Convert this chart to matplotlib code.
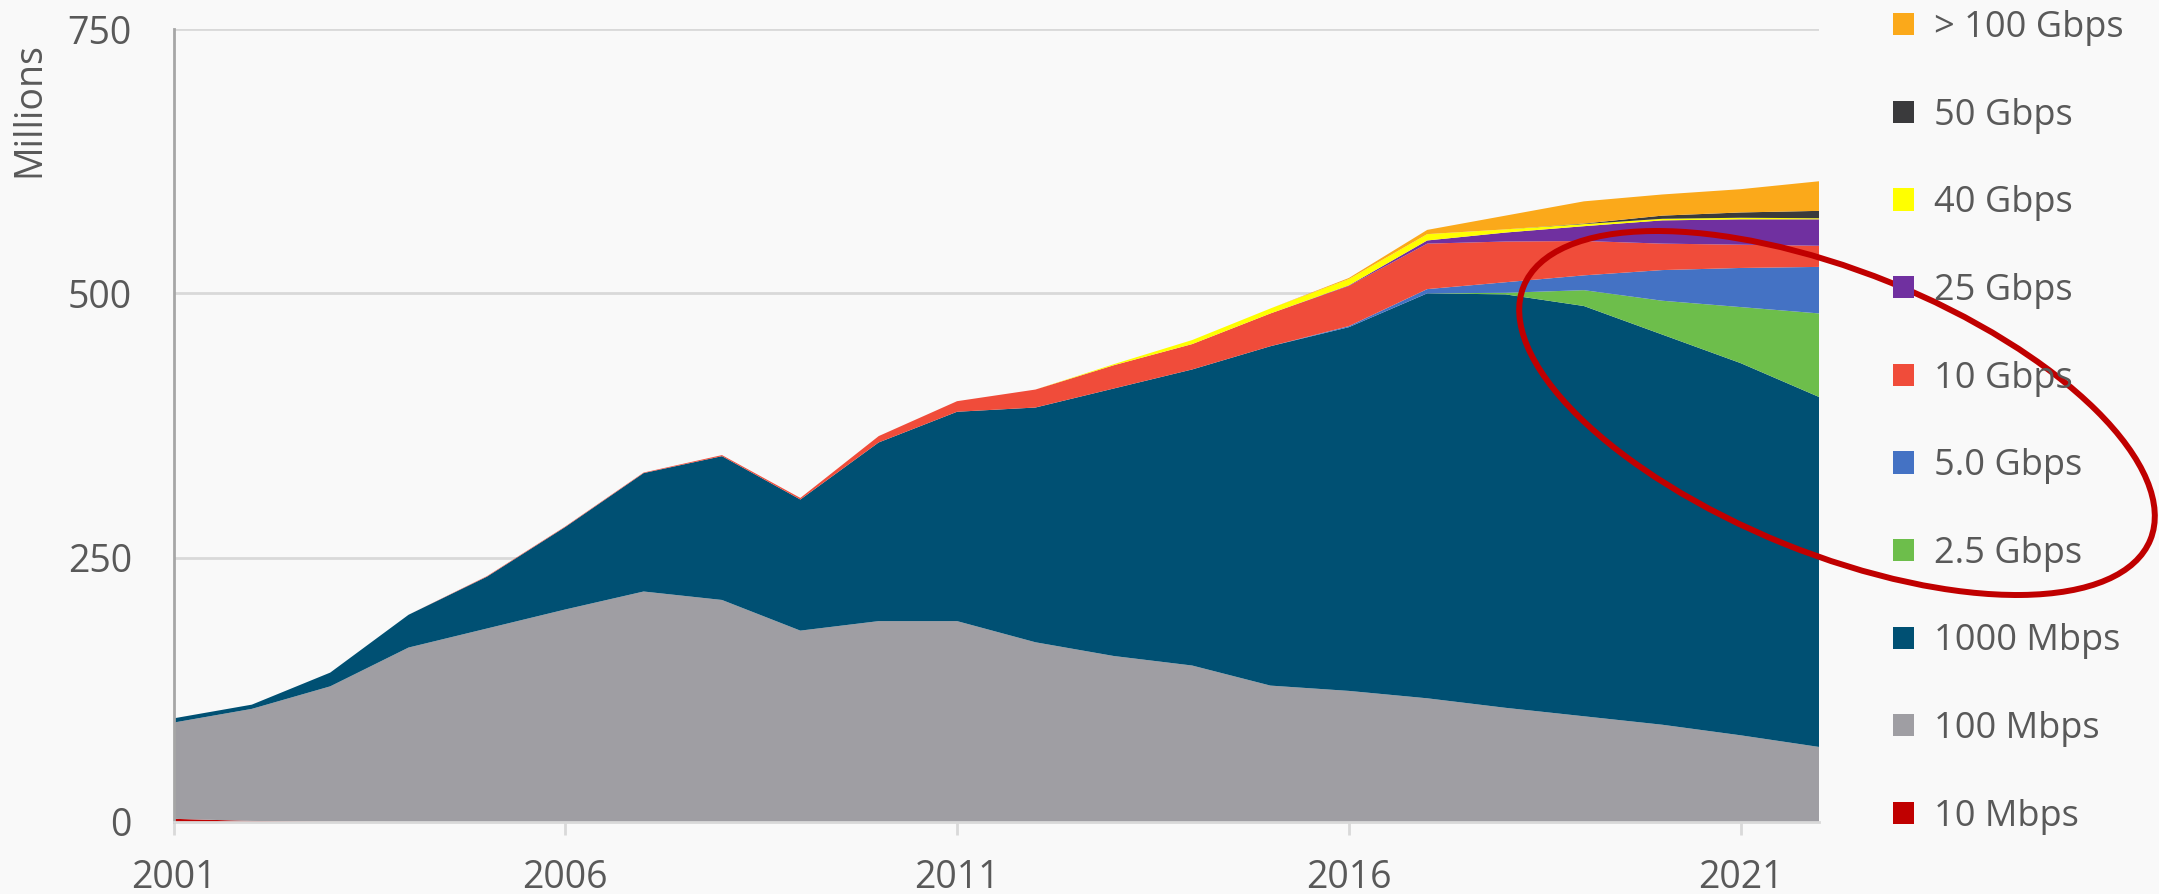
import matplotlib
matplotlib.use("Agg")
import matplotlib.pyplot as plt
from matplotlib.patches import Ellipse
import numpy as np

plt.rcParams['font.family'] = ['Open Sans', 'DejaVu Sans']

years = list(range(2001, 2023))

# port shipments by speed, millions (stack order bottom -> top)
mbps_10 = [3, 1, 0.3, 0, 0, 0, 0, 0, 0, 0, 0, 0, 0, 0, 0, 0, 0, 0, 0, 0, 0, 0]
mbps_100 = [91, 106, 128, 165, 183, 201, 218, 210, 181, 190, 190, 170, 157, 148, 129, 124, 117, 108, 100, 92, 82, 71]
mbps_1000 = [4, 4, 13, 31, 49, 78, 112, 136, 124, 169, 198, 222, 253, 280, 321, 344, 383, 391, 388, 369, 352, 331]
gbps_2_5 = [0, 0, 0, 0, 0, 0, 0, 0, 0, 0, 0, 0, 0, 0, 0, 0, 0, 1.5, 15, 32, 53, 79]
gbps_5 = [0, 0, 0, 0, 0, 0, 0, 0, 0, 0, 0, 0, 0, 0, 0, 1, 4, 10, 14, 29, 37, 44]
gbps_10 = [0, 0, 0, 0, 0.5, 0.5, 0.5, 1, 1.5, 6, 10, 17, 22, 24, 31, 38, 43, 38.5, 32.5, 25, 22, 20]
gbps_25 = [0, 0, 0, 0, 0, 0, 0, 0, 0, 0, 0, 0, 0, 0, 0, 0.5, 3, 8.5, 14, 22, 24, 25]
gbps_40 = [0, 0, 0, 0, 0, 0, 0, 0, 0, 0, 0, 0, 1, 3.8, 4.7, 6, 6, 3, 2, 1.5, 1.5, 1]
gbps_50 = [0, 0, 0, 0, 0, 0, 0, 0, 0, 0, 0, 0, 0, 0, 0, 0, 0, 0, 0.5, 3, 5, 7]
gbps_100p = [0, 0, 0, 0, 0, 0, 0, 0, 0, 0, 0, 0, 0, 0, 0, 1, 4, 13, 21, 20, 22, 28]

series = [mbps_10, mbps_100, mbps_1000, gbps_2_5, gbps_5, gbps_10, gbps_25, gbps_40, gbps_50, gbps_100p]
labels = ['10 Mbps', '100 Mbps', '1000 Mbps', '2.5 Gbps', '5.0 Gbps', '10 Gbps',
          '25 Gbps', '40 Gbps', '50 Gbps', '> 100 Gbps']
colors = ['#C00000', '#9F9EA3', '#005073', '#6DBE4B', '#4472C4', '#F04C3A',
          '#7030A0', '#FFFF00', '#3A3A3C', '#FBA91A']

xticks = [2001, 2006, 2011, 2016, 2021]
yticks = [0, 250, 500, 750]

bg = '#F9F9F9'
txt = '#595959'

W, H = 2159, 894
fig = plt.figure(figsize=(W / 100, H / 100), dpi=100, facecolor=bg)
ax = fig.add_axes([173.5 / W, 1 - 822 / H, (1819 - 173.5) / W, (822 - 29) / H])
ax.set_facecolor(bg)

polys = ax.stackplot(years, *series, colors=colors, labels=labels, linewidth=0)

ax.set_xlim(2001, 2022)
ax.set_ylim(0, 750)
ax.set_xticks(xticks)
ax.set_yticks(yticks)
ax.grid(axis='y', color='#D9D9D9', linewidth=2)
ax.set_axisbelow(True)

for s in ['top', 'right']:
    ax.spines[s].set_visible(False)
ax.spines['left'].set_color('#A6A6A6')
ax.spines['left'].set_linewidth(2)
ax.spines['bottom'].set_color('#D9D9D9')
ax.spines['bottom'].set_linewidth(2)

ax.tick_params(axis='y', length=0, pad=30, labelsize=27, labelcolor=txt)
ax.tick_params(axis='x', length=9, width=2, color='#D9D9D9', pad=18, labelsize=27, labelcolor=txt)

fig.text(29 / W, 1 - 110 / H, 'Millions', rotation=90, ha='center', va='center',
         fontsize=27, color=txt)

fig.legend(polys[::-1], labels[::-1], loc='upper left', bbox_to_anchor=(1893 / W, 1 - 10 / H),
           frameon=False, fontsize=26, labelcolor=txt, handlelength=0.57, handleheight=0.57,
           handletextpad=0.57, labelspacing=1.43, borderpad=0, borderaxespad=0)

# red highlight ellipse drawn over everything
over = fig.add_axes([0, 0, 1, 1], facecolor='none')
over.set_xlim(0, W)
over.set_ylim(0, H)
over.axis('off')
over.add_patch(Ellipse((1837, H - 413), 676, 282, angle=-22, fill=False,
                       edgecolor='#C00000', linewidth=4.3, clip_on=False))

fig.savefig('out.png', dpi=100, facecolor=bg)
